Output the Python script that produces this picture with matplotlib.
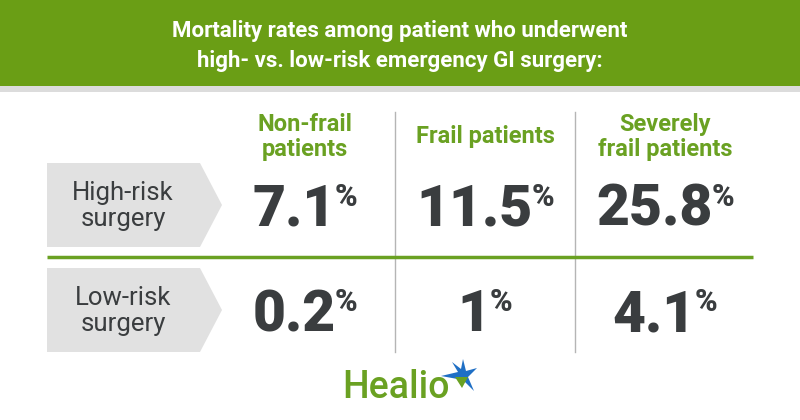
import matplotlib.pyplot as plt
from matplotlib.patches import Rectangle, Polygon

plt.rcParams['font.family'] = ['Roboto', 'DejaVu Sans']

title_lines = ["Mortality rates among patient who underwent",
               "high- vs. low-risk emergency GI surgery:"]
col_labels = ["Non-frail\npatients", "Frail patients", "Severely\nfrail patients"]
row_labels = ["High-risk\nsurgery", "Low-risk\nsurgery"]
values = [["7.1", "11.5", "25.8"],
          ["0.2", "1", "4.1"]]

green_dark = "#6a9e15"
green = "#6aa122"
text_dark = "#3a3d3f"
box_gray = "#e1e1e1"

fig = plt.figure(figsize=(8, 4.2), dpi=100)
ax = fig.add_axes([0, 0, 1, 1])
ax.set_xlim(0, 800)
ax.set_ylim(420, 0)
ax.axis('off')

# header
ax.add_patch(Rectangle((0, 0), 800, 86, color=green_dark, lw=0))
ax.add_patch(Rectangle((0, 86), 800, 6, color="#dcdcdc", lw=0))
ax.text(400, 31, title_lines[0], ha='center', va='center', color='white',
        fontsize=16, fontweight='bold')
ax.text(400, 61, title_lines[1], ha='center', va='center', color='white',
        fontsize=16, fontweight='bold')

col_x = [305, 485, 665]
row_y = [205, 310]

# column headers
for cx, lab in zip(col_x, col_labels):
    ax.text(cx, 137, lab, ha='center', va='center', color=green,
            fontsize=17, fontweight='bold', linespacing=1.15)

# separators
for sx in [395, 575]:
    ax.plot([sx, sx], [112, 352], color="#b5b5b5", lw=1)
ax.plot([47, 753], [257, 257], color=green, lw=2.5, solid_capstyle='butt')

# row label boxes
for ry, lab in zip(row_y, row_labels):
    top, bot = ry - 42, ry + 42
    ax.add_patch(Polygon([(47, top), (200, top), (222, ry), (200, bot), (47, bot)],
                         closed=True, color=box_gray, lw=0))
    ax.text(123, ry + 1, lab, ha='center', va='center', color=text_dark,
            fontsize=18.5, linespacing=1.1)

# values
fig.canvas.draw()
renderer = fig.canvas.get_renderer()
for ry, row in zip(row_y, values):
    base = ry + 21
    for cx, v in zip(col_x, row):
        t1 = ax.text(0, base, v, ha='left', va='baseline', color=text_dark,
                     fontsize=41, fontweight='black')
        t2 = ax.text(0, base - 20, "%", ha='left', va='baseline', color=text_dark,
                     fontsize=22, fontweight='black')
        w1 = t1.get_window_extent(renderer).width
        w2 = t2.get_window_extent(renderer).width
        gap = -1
        x0 = cx - (w1 + gap + w2) / 2
        t1.set_x(x0)
        t2.set_x(x0 + w1 + gap)

# logo
ax.text(396, 398, "Healio", ha='center', va='baseline', color=green,
        fontsize=27, fontweight='medium')
star = [(463, 359), (466, 371), (477, 368), (468, 377), (474, 391),
        (463, 380), (441, 376), (458, 372), (452, 362), (461, 369)]
ax.add_patch(Polygon(star, closed=True, color="#1f6fc5", lw=0))
ax.add_patch(Polygon([(455, 377), (468, 377), (462, 388)], closed=True,
                     color=green, lw=0))

fig.savefig("out.png", dpi=100)
